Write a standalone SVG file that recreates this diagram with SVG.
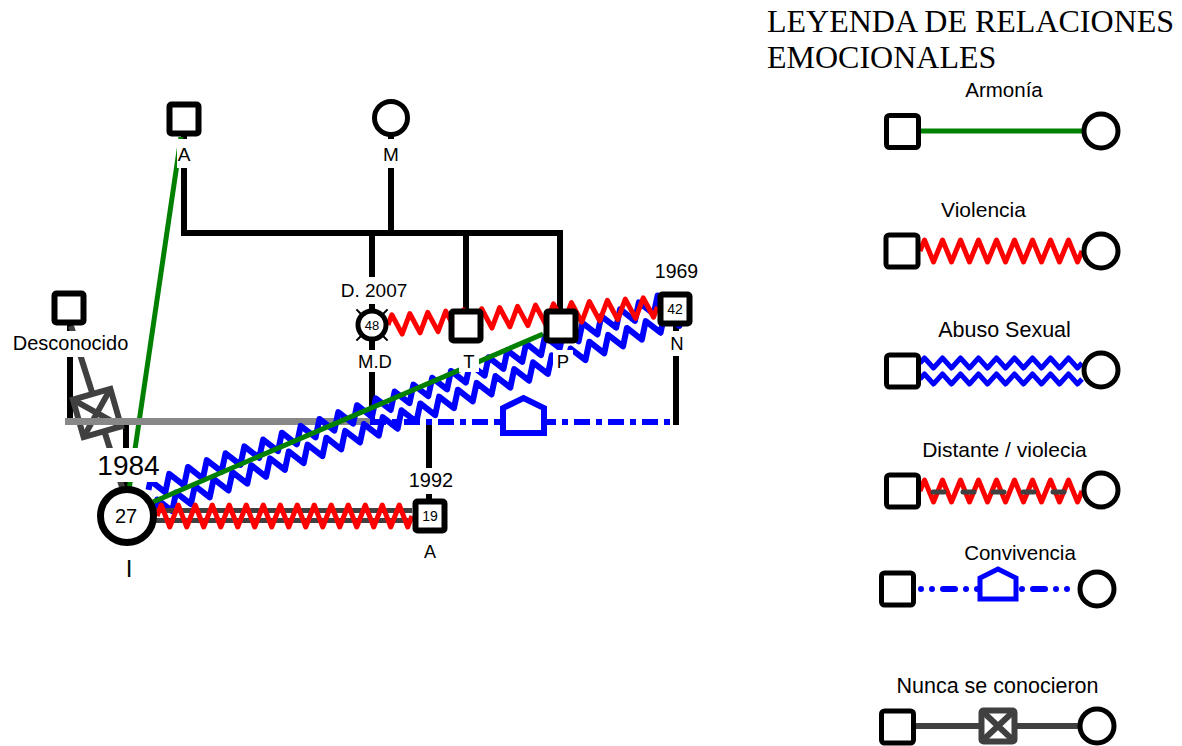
<svg xmlns="http://www.w3.org/2000/svg" width="1182" height="746" viewBox="0 0 1182 746">
<defs>
<style>
.blk{stroke:#000;stroke-width:6;fill:none}
.sq{fill:#fff;stroke:#000;stroke-width:6}
.ci{fill:#fff;stroke:#000;stroke-width:5}
.lsq{fill:#fff;stroke:#000;stroke-width:5}
.t{font-family:"Liberation Sans",Arial,sans-serif;fill:#000;text-anchor:middle}
.bg{fill:#fff}
.red{stroke:#ff0000;stroke-width:5;fill:none;stroke-linejoin:round}
.blu{stroke:#0000ff;stroke-width:5;fill:none;stroke-linejoin:round}
.blu2{stroke:#0000ff;stroke-width:6;fill:none;stroke-linejoin:round}
.grn{stroke:#008000;stroke-width:5;fill:none}
.dg{stroke:#404040;stroke-width:6;fill:none}
.title{font-family:"Liberation Serif","Times New Roman",serif;font-size:32px;fill:#000}
</style>
<path id="zzR" d="M0,0 l4.5,-11 l9,22 l9,-22 l9,22 l9,-22 l9,22 l9,-22 l9,22 l9,-22 l9,22 l9,-22 l9,22 l9,-22 l9,22 l9,-22 l9,22 l9,-22 l9,22 l4.5,-11"/>
<path id="zzB" d="M0,0 l4.5,-5 l9,10 l9,-10 l9,10 l9,-10 l9,10 l9,-10 l9,10 l9,-10 l9,10 l9,-10 l9,10 l9,-10 l9,10 l9,-10 l9,10 l9,-10 l9,10 l4.5,-5"/>
<path id="zzBig" d="M2,0 l5,-8 l10,16 l10,-16 l10,16 l10,-16 l10,16 l10,-16 l10,16 l10,-16 l10,16 l10,-16 l10,16 l10,-16 l10,16 l10,-16 l10,16 l10,-16 l10,16 l10,-16 l10,16 l10,-16 l10,16 l10,-16 l10,16 l10,-16 l10,16 l10,-16 l10,16 l10,-16 l10,16 l10,-16 l10,16 l10,-16 l10,16 l10,-16 l10,16 l10,-16 l10,16 l10,-16 l10,16 l10,-16 l10,16 l10,-16 l10,16 l10,-16 l10,16 l10,-16 l10,16 l10,-16 l10,16 l10,-16 l10,16 l10,-16 l10,16 l10,-16 l10,16 l5,-8"/>
</defs>
<rect width="1182" height="746" fill="#fff"/>

<g id="connectors">
  <path class="blk" d="M184,136 V232 M181,233 H563 M391,136 V233 M372,233 V310 M466,233 V312 M560,233 V312 M372,340 V421 M676,325 V425 M429,422 V500 M70,325 V421 M126,421 V488"/>
  <line class="dg" x1="71" y1="326" x2="123" y2="490"/>
  <g transform="translate(97,413) rotate(-16)">
    <rect x="-19.5" y="-19.5" width="39" height="39" fill="#fff" stroke="#404040" stroke-width="6"/>
    <path class="dg" d="M-19.5,-19.5 L19.5,19.5 M19.5,-19.5 L-19.5,19.5"/>
  </g>
  <line class="grn" x1="181" y1="137" x2="129" y2="490"/>
  <line x1="65" y1="421.5" x2="370" y2="421.5" stroke="#888888" stroke-width="7"/>
  <line x1="370" y1="422" x2="676" y2="422" stroke="#0000ff" stroke-width="6" stroke-dasharray="16 6 6 6"/>
  <path d="M503,433 V408 L523.5,398 L544,408 V433 Z" fill="#fff" stroke="#0000ff" stroke-width="6"/>
  <g transform="translate(150,500) rotate(-20.06)">
    <use href="#zzBig" class="blu2" transform="translate(0,-10)"/>
    <use href="#zzBig" class="blu2" transform="translate(0,10)"/>
  </g>
  <path class="red" transform="translate(388,325) rotate(-3.83)" d="M0,0 l4.5,-10 l9,20 l9,-20 l9,20 l9,-20 l9,20 l9,-20 l9,20 l9,-20 l9,20 l9,-20 l9,20 l9,-20 l9,20 l9,-20 l9,20 l9,-20 l9,20 l9,-20 l9,20 l9,-20 l9,20 l9,-20 l9,20 l9,-20 l9,20 l9,-20 l9,20 l9,-20 l9,20 l4.5,-10"/>
  <line class="grn" x1="543" y1="334" x2="153" y2="502"/>
  <path d="M155,510.5 H412 M155,520.5 H412" stroke="#404040" stroke-width="5"/>
  <path class="red" d="M157,516 l4.25,-11 l8.5,22 l8.5,-22 l8.5,22 l8.5,-22 l8.5,22 l8.5,-22 l8.5,22 l8.5,-22 l8.5,22 l8.5,-22 l8.5,22 l8.5,-22 l8.5,22 l8.5,-22 l8.5,22 l8.5,-22 l8.5,22 l8.5,-22 l8.5,22 l8.5,-22 l8.5,22 l8.5,-22 l8.5,22 l8.5,-22 l8.5,22 l8.5,-22 l8.5,22 l8.5,-22 l8.5,22 l4.25,-11"/>
</g>

<g id="node-A-top">
  <rect class="sq" x="169.5" y="104.5" width="29" height="29" rx="2"/>
  <rect class="bg" x="177" y="139" width="15" height="29"/>
  <text class="t" x="184" y="161" font-size="19">A</text>
</g>
<g id="node-M">
  <circle class="ci" cx="391" cy="118" r="16.5"/>
  <rect class="bg" x="382" y="139" width="18" height="29"/>
  <text class="t" x="391" y="161" font-size="19">M</text>
</g>
<g id="node-MD">
  <rect class="bg" x="338" y="277" width="72" height="27"/>
  <text class="t" x="374" y="297" font-size="19">D. 2007</text>
  <path d="M360.7,313.7 L356.4,309.4 M383.3,313.7 L387.6,309.4 M360.7,336.3 L356.4,340.6 M383.3,336.3 L387.6,340.6" stroke="#000" stroke-width="2"/>
  <circle class="ci" cx="372" cy="325" r="14"/>
  <text class="t" x="372" y="330" font-size="13">48</text>
  <rect class="bg" x="356" y="350" width="38" height="22"/>
  <text class="t" x="375" y="368" font-size="18.5">M.D</text>
</g>
<g id="node-T">
  <rect class="sq" x="451.5" y="311.5" width="29" height="29" rx="2"/>
  <rect class="bg" x="459" y="350" width="20" height="22"/>
  <text class="t" x="469" y="368" font-size="18.5">T</text>
</g>
<g id="node-P">
  <rect class="sq" x="546.5" y="311.5" width="29" height="29" rx="2"/>
  <rect class="bg" x="553" y="350" width="20" height="22"/>
  <text class="t" x="563" y="368" font-size="18.5">P</text>
</g>
<g id="node-N">
  <text class="t" x="676.5" y="278" font-size="19.5">1969</text>
  <rect class="sq" x="660.5" y="294.5" width="29" height="29" rx="2"/>
  <text class="t" x="675" y="314" font-size="14">42</text>
  <rect class="bg" x="668" y="331" width="18" height="25"/>
  <text class="t" x="677" y="350" font-size="18.5">N</text>
</g>
<g id="node-Desconocido">
  <rect class="sq" x="54.5" y="293.5" width="29" height="29" rx="2"/>
  <rect class="bg" x="10" y="331" width="122" height="26"/>
  <text class="t" x="70.5" y="350" font-size="20">Desconocido</text>
</g>
<g id="node-I">
  <rect class="bg" x="94" y="448" width="69" height="34"/>
  <text class="t" x="128.5" y="475" font-size="28">1984</text>
  <circle cx="127" cy="516" r="26.5" fill="#fff" stroke="#000" stroke-width="7"/>
  <text class="t" x="126" y="523" font-size="20">27</text>
  <text class="t" x="129" y="577" font-size="24">I</text>
</g>
<g id="node-A-1992">
  <rect class="bg" x="407" y="468" width="48" height="26"/>
  <text class="t" x="431" y="487" font-size="20">1992</text>
  <rect class="sq" x="415.5" y="501.5" width="29" height="29" rx="2"/>
  <text class="t" x="430" y="521" font-size="14">19</text>
  <text class="t" x="430" y="558" font-size="18">A</text>
</g>

<g id="legend">
  <text class="title" x="767" y="32">LEYENDA DE RELACIONES</text>
  <text class="title" x="767" y="68">EMOCIONALES</text>

  <g id="leg-armonia">
    <text class="t" x="1004" y="97" font-size="20.5">Armonía</text>
    <line class="grn" x1="920" y1="131" x2="1084" y2="131"/>
    <rect class="lsq" x="886.5" y="115.5" width="32" height="32" rx="3"/>
    <circle class="ci" cx="1101" cy="131" r="17"/>
  </g>
  <g id="leg-violencia">
    <text class="t" x="983.5" y="217" font-size="21">Violencia</text>
    <use href="#zzR" class="red" transform="translate(920,251)"/>
    <rect class="lsq" x="886" y="235" width="32" height="32" rx="3"/>
    <circle class="ci" cx="1101" cy="251" r="17"/>
  </g>
  <g id="leg-abuso">
    <text class="t" x="1004.5" y="337" font-size="21.5">Abuso Sexual</text>
    <use href="#zzB" class="blu" transform="translate(920,363)"/>
    <use href="#zzB" class="blu" transform="translate(920,379)"/>
    <rect class="lsq" x="886.5" y="355" width="32" height="32" rx="3"/>
    <circle class="ci" cx="1101" cy="370" r="17"/>
  </g>
  <g id="leg-distante">
    <text class="t" x="1004.5" y="457" font-size="21">Distante / violecia</text>
    <use href="#zzR" class="red" transform="translate(920,491)"/>
    <line x1="933" y1="492" x2="1068" y2="492" stroke="#404040" stroke-width="5" stroke-linecap="round" stroke-dasharray="11 19"/>
    <rect class="lsq" x="886.5" y="475" width="32" height="32" rx="3"/>
    <circle class="ci" cx="1101" cy="490" r="17"/>
  </g>
  <g id="leg-convivencia">
    <text class="t" x="1020" y="560" font-size="20.5">Convivencia</text>
    <line x1="921" y1="589" x2="1078" y2="589" stroke="#0000ff" stroke-width="6" stroke-linecap="round" stroke-dasharray="0 11 0 11 12 11"/>
    <path d="M980,599 V578 L998,569 L1016,578 V599 Z" fill="#fff" stroke="#0000ff" stroke-width="5"/>
    <rect class="lsq" x="881.5" y="573" width="32" height="32" rx="3"/>
    <circle class="ci" cx="1097" cy="589" r="17"/>
  </g>
  <g id="leg-nunca">
    <text class="t" x="997.5" y="693" font-size="21.5">Nunca se conocieron</text>
    <line class="dg" x1="914" y1="726" x2="1080" y2="726" stroke-width="5"/>
    <rect x="981.5" y="710.5" width="33" height="31" fill="#fff" stroke="#404040" stroke-width="6" rx="2"/>
    <path class="dg" d="M981.5,710.5 L1014.5,741.5 M1014.5,710.5 L981.5,741.5" stroke-width="5"/>
    <rect class="lsq" x="881.5" y="711" width="32" height="32" rx="3"/>
    <circle class="ci" cx="1097" cy="726" r="17"/>
  </g>
</g>
</svg>
